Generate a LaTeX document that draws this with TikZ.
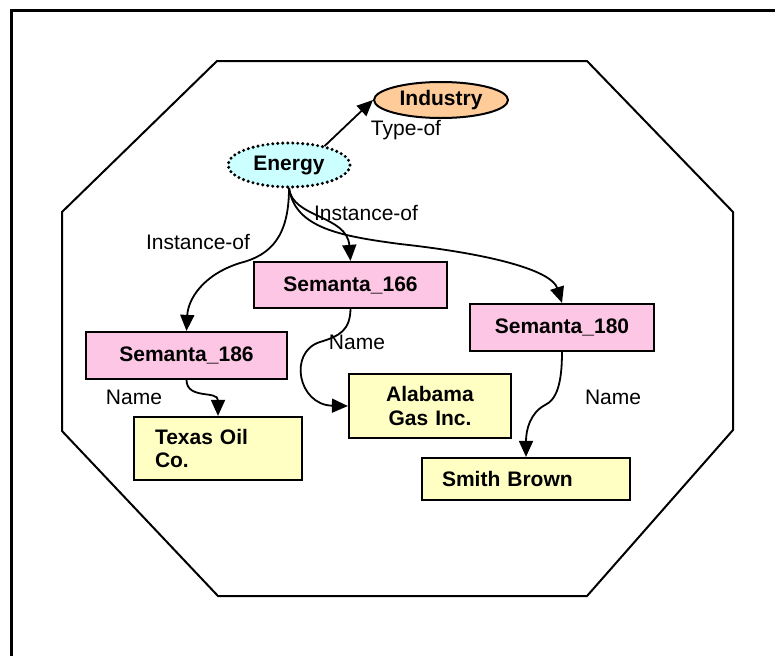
\documentclass[tikz,border=0pt]{standalone}
\usepackage{fontspec}
\setmainfont{Liberation Sans}
\usetikzlibrary{arrows.meta,shapes.geometric}

\definecolor{peach}{HTML}{FFCC99}
\definecolor{paleaqua}{HTML}{CCFFFF}
\definecolor{rosefill}{HTML}{FCC6E4}
\definecolor{creamfill}{HTML}{FFFFC4}

\tikzset{
  every node/.style={font=\fontsize{21}{23.5}\selectfont},
  concept/.style={ellipse, draw, line width=2pt, inner sep=0pt, font=\fontsize{21}{23.5}\selectfont\bfseries},
  instbox/.style={rectangle, draw, line width=2.2pt, fill=rosefill, inner sep=0pt,
    font=\fontsize{21}{23.5}\selectfont\bfseries},
  valbox/.style={rectangle, draw, line width=2.2pt, fill=creamfill, inner ysep=0pt,
    font=\fontsize{21}{23.5}\selectfont\bfseries},
  rel/.style={line width=1.8pt, -{Triangle[length=16pt,width=14pt]}},
  tag/.style={inner sep=0pt}
}

\begin{document}
\begin{tikzpicture}[x=1pt,y=-1pt]
\useasboundingbox (0,0) rectangle (775,656);

% page frame (left and top edges)
\draw[line width=3pt] (11,656) -- (11,10) -- (775,10);

% octagonal context boundary
\draw[line width=2pt] (217,61) -- (587,61) -- (733,212) -- (733,430)
  -- (587,596) -- (218,596) -- (62,431) -- (62,212) -- cycle;

% concept nodes
\node[concept, fill=peach, minimum width=134pt, minimum height=36pt] (industry) at (441,100) {Industry};
\node[concept, fill=paleaqua, draw=none, minimum width=122pt, minimum height=44pt] (energy) at (289,165) {Energy};
\draw[line width=3.4pt, line cap=round, dash pattern=on 0pt off 5pt]
  (289,165) ellipse [x radius=61pt, y radius=22pt];

% instance nodes
\node[instbox, minimum width=193pt, minimum height=46pt] (sem166) at (350.5,285) {Semanta\_166};
\node[instbox, minimum width=201pt, minimum height=47pt] (sem186) at (186.5,355.5) {Semanta\_186};
\node[instbox, minimum width=184pt, minimum height=47pt] (sem180) at (562,327.5) {Semanta\_180};

% name value nodes
\node[valbox, inner xsep=21pt, text width=126pt, align=left, minimum height=63pt] (texas) at (218,448.5) {Texas Oil\\Co.};
\node[valbox, inner xsep=0pt, text width=162pt, align=center, minimum height=64pt] (alabama) at (430,406) {Alabama\\Gas Inc.};
\node[valbox, inner xsep=20pt, text width=168pt, align=left, minimum height=42pt] (smith) at (526,479) {Smith Brown};

% relation labels
\node[tag] (ltype) at (406,130) {Type-of};
\node[tag] (linstl) at (198,242) {Instance-of};
\node[tag] (linstr) at (366,213) {Instance-of};
\node[tag] (lname1) at (357,342) {Name};
\node[tag] (lname2) at (134,397) {Name};
\node[tag] (lname3) at (613,397) {Name};

% relations
\draw[rel] (energy.28) -- (industry.west);
\draw[rel] (energy.south) .. controls (289,235) and (272,255) .. (240,263)
  .. controls (202,275) and (188,300) .. (sem186.north);
\draw[rel] (energy.south) .. controls (292,218) and (347,215) .. (sem166.north);
\draw[rel] (energy.south) .. controls (295,228) and (340,236) .. (400,244)
  .. controls (500,255) and (552,272) .. (sem180.north);
\draw[rel] (sem166.south) .. controls (350,330) and (340,336) .. (320,342)
  .. controls (288,352) and (298,405) .. (alabama.west);
\draw[rel] (sem186.south) .. controls (187,400) and (218,390) .. (texas.north);
\draw[rel] (sem180.south) .. controls (562,385) and (556,400) .. (545,405)
  .. controls (530,413) and (526,430) .. (smith.north);
\end{tikzpicture}
\end{document}
